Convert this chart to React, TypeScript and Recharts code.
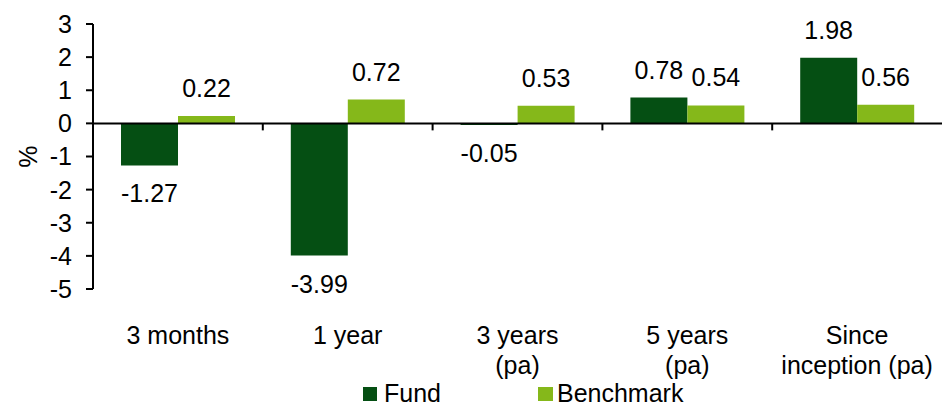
import React from 'react'
import {
  BarChart,
  Bar,
  XAxis,
  YAxis,
  Legend,
  ReferenceLine,
  LabelList,
} from 'recharts'

const categories = ['3 months', '1 year', '3 years (pa)', '5 years (pa)', 'Since inception (pa)']
const categoryLines = [['3 months'], ['1 year'], ['3 years', '(pa)'], ['5 years', '(pa)'], ['Since', 'inception (pa)']]
const fundValues = [-1.27, -3.99, -0.05, 0.78, 1.98]
const benchmarkValues = [0.22, 0.72, 0.53, 0.54, 0.56]
const yTicks = [-5, -4, -3, -2, -1, 0, 1, 2, 3]

const FUND = '#054F13'
const BENCH = '#85B81A'
const FONT = '"Liberation Sans", Arial, sans-serif'
const FS = 25

const data = categories.map((name, i) => ({
  name,
  fund: fundValues[i],
  benchmark: benchmarkValues[i],
}))

const ValueLabel = (props: any) => {
  const { x, y, width, height, value } = props
  const top = Math.min(y, y + height)
  const bottom = Math.max(y, y + height)
  // baseline positions
  const by = value >= 0 ? top - 19 : bottom + 37
  return (
    <text x={x + width / 2} y={by} textAnchor="middle" fontSize={FS} fontFamily={FONT} fill="#000">
      {value.toFixed(2)}
    </text>
  )
}

const CategoryTick = (props: any) => {
  const { x, y, index } = props
  const lines = categoryLines[index] || []
  return (
    <g>
      {lines.map((l, i) => (
        <text key={i} x={x} y={y + 47 + i * 30} textAnchor="middle" fontSize={FS} fontFamily={FONT} fill="#000">
          {l}
        </text>
      ))}
    </g>
  )
}

const ZeroLine = (props: any) => {
  const { x1, x2, y1 } = props
  const n = categories.length
  const step = (x2 - x1) / n
  return (
    <g>
      <line x1={x1} x2={x2} y1={y1} y2={y1} stroke="#000" strokeWidth={2} />
      {Array.from({ length: n - 1 }, (_, i) => (
        <line key={i} x1={x1 + step * (i + 1)} x2={x1 + step * (i + 1)} y1={y1} y2={y1 + 7} stroke="#000" strokeWidth={2} />
      ))}
    </g>
  )
}

const LegendContent = () => (
  <div style={{ display: 'flex', paddingLeft: 363, paddingTop: 4, fontFamily: FONT, fontSize: FS, color: '#000', lineHeight: '25px' }}>
    <div style={{ display: 'flex', alignItems: 'center', marginRight: 97 }}>
      <span style={{ width: 14, height: 14, background: FUND, display: 'inline-block', marginRight: 7 }} />
      Fund
    </div>
    <div style={{ display: 'flex', alignItems: 'center' }}>
      <span style={{ width: 15, height: 14, background: BENCH, display: 'inline-block', marginRight: 4 }} />
      Benchmark
    </div>
  </div>
)

export default function App() {
  return (
    <div style={{ position: 'absolute', left: 0, top: 0, background: '#fff' }}>
      <BarChart
        width={942}
        height={406}
        data={data}
        margin={{ top: 24, right: 0, left: 0, bottom: 0 }}
        barGap={0}
        barSize={57}
      >
        <XAxis dataKey="name" axisLine={false} tickLine={false} tick={<CategoryTick />} interval={0} height={88} />
        <YAxis
          domain={[-5, 3]}
          ticks={yTicks}
          interval={0}
          width={93}
          axisLine={{ stroke: '#000', strokeWidth: 2 }}
          tickLine={{ stroke: '#000', strokeWidth: 2 }}
          tickSize={7}
          tickMargin={14}
          tick={{ fontSize: FS, fontFamily: FONT, fill: '#000' }}
          label={{ value: '%', angle: -90, position: 'insideLeft', offset: 28, style: { fontSize: FS, fontFamily: FONT, fill: '#000', textAnchor: 'middle' } }}
        />
        <Legend verticalAlign="bottom" height={29} content={<LegendContent />} />
        <Bar dataKey="fund" fill={FUND} isAnimationActive={false}>
          <LabelList dataKey="fund" content={<ValueLabel />} />
        </Bar>
        <Bar dataKey="benchmark" fill={BENCH} isAnimationActive={false}>
          <LabelList dataKey="benchmark" content={<ValueLabel />} />
        </Bar>
        <ReferenceLine y={0} shape={<ZeroLine />} />
      </BarChart>
    </div>
  )
}
